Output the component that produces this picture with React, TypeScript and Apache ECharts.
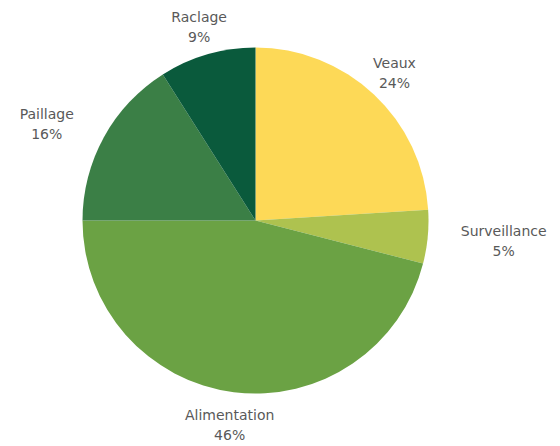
import React, { useEffect, useRef } from "react";
import * as echarts from "echarts";

// Data
const categories = ["Veaux", "Surveillance", "Alimentation", "Paillage", "Raclage"];
const values = [24, 5, 46, 16, 9];

// Styles
const colors = ["#FDD957", "#AEC24F", "#6BA244", "#3B7F46", "#0A5A3C"];
const labelRadius = [203, 249, 206, 230, 202];
const labelAngleNudgeDeg = [0, -0.7, 0, -4, 0];

const CX = 255.5;
const CY = 220.5;
const R = 173;

export default function App() {
  const ref = useRef<HTMLDivElement>(null);
  useEffect(() => {
    document.body.style.margin = "0";
    const chart = echarts.init(ref.current!, null, { renderer: "svg" });
    const total = values.reduce((a, b) => a + b, 0);
    const mids = values.map((v, i) => {
      const before = values.slice(0, i).reduce((a, b) => a + b, 0);
      return ((before + v / 2) / total) * 2 * Math.PI;
    });
    chart.setOption({
      animation: false,
      backgroundColor: "#ffffff",
      series: [
        {
          type: "pie",
          center: [CX, CY],
          radius: R,
          startAngle: 90,
          clockwise: true,
          percentPrecision: 0,
          avoidLabelOverlap: false,
          data: categories.map((name, i) => ({
            name,
            value: values[i],
            itemStyle: { color: colors[i] },
          })),
          label: {
            show: true,
            position: "outside",
            formatter: "{b}\n{d}%",
            fontFamily: "DejaVu Sans",
            fontSize: 14,
            lineHeight: 20,
            color: "#595959",
          },
          labelLine: { show: false },
          labelLayout: (p: any) => {
            const i = p.dataIndex;
            const a = mids[i] + (labelAngleNudgeDeg[i] * Math.PI) / 180;
            const r = labelRadius[i];
            return {
              x: CX + r * Math.sin(a),
              y: CY - r * Math.cos(a),
              align: "center",
              verticalAlign: "middle",
            };
          },
          emphasis: { disabled: true },
        },
      ],
    });
    return () => chart.dispose();
  }, []);
  return <div ref={ref} style={{ width: 560, height: 446 }} />;
}
